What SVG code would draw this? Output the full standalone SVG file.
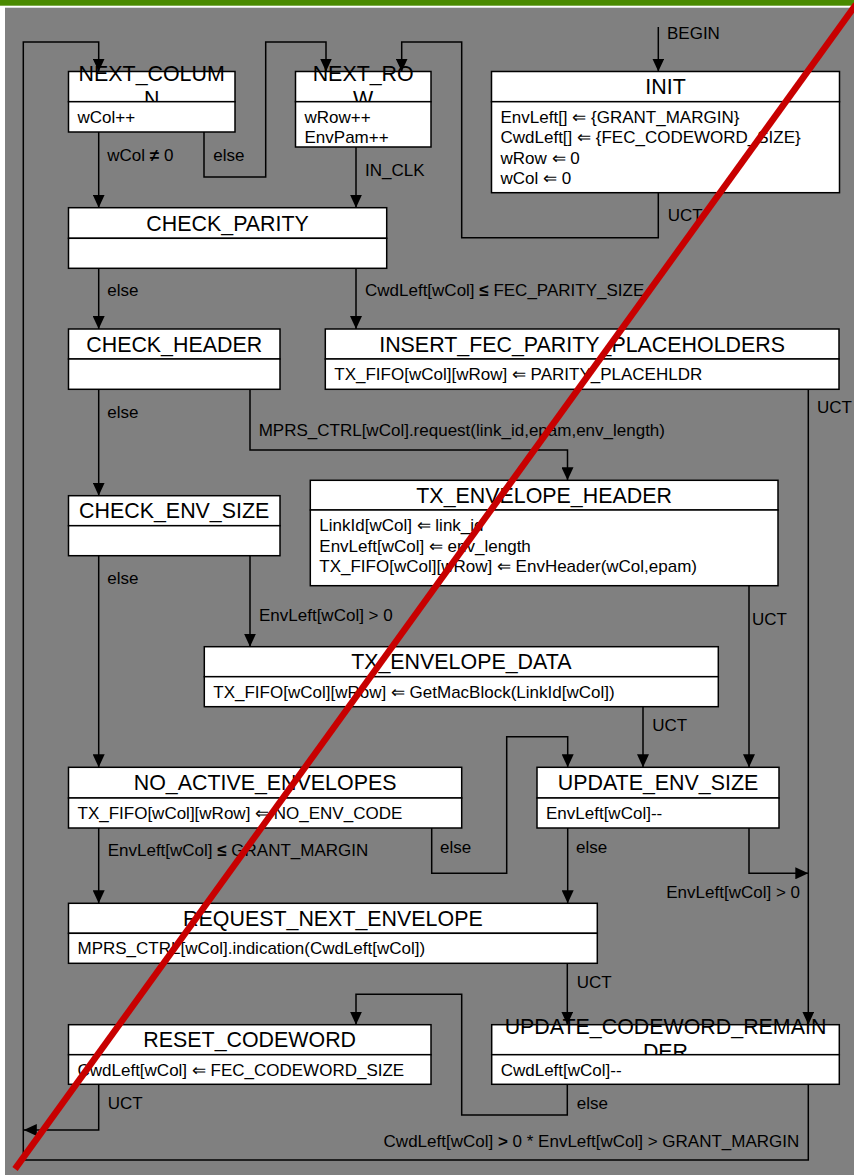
<svg xmlns="http://www.w3.org/2000/svg" width="854" height="1175" viewBox="0 0 854 1175">
<style>
.hd{fill:#fff;stroke:#000;stroke-width:1.5}
.bd{fill:#fff;stroke:#000;stroke-width:1.5}
.t{font-family:"Liberation Sans",Arial,sans-serif;font-size:21.4px;fill:#000;text-anchor:middle}
.b{font-family:"Liberation Sans",Arial,sans-serif;font-size:17px;fill:#000}
.l{font-family:"Liberation Sans",Arial,sans-serif;font-size:17px;fill:#000}
.r{text-anchor:end}
.c{fill:none;stroke:#000;stroke-width:1.5}
.bo{font-weight:bold}
</style>
<defs>
<marker id="ah" markerUnits="userSpaceOnUse" markerWidth="14" markerHeight="12" refX="13" refY="6" orient="auto">
<path d="M0,0 L13,6 L0,12 Z" fill="#000"/>
</marker>
<clipPath id="cpTop"><rect x="0" y="50" width="854" height="51.7"/></clipPath>
<clipPath id="cpBot"><rect x="0" y="1000" width="854" height="54.7"/></clipPath>
</defs>
<rect x="0" y="0" width="854" height="1175" fill="#fff"/>
<rect x="0" y="0" width="854" height="5.7" fill="#4a8a00"/>
<rect x="5" y="7.7" width="849" height="1167.3" fill="#808080"/>

<g id="NEXT_COLUMN">
<rect class="hd" x="68.5" y="71.5" width="166.5" height="30.2"/>
<g clip-path="url(#cpTop)">
<text class="t" x="151.7" y="81.2">NEXT_COLUM</text>
<text class="t" x="151.7" y="106.2">N</text>
</g>
<rect class="bd" x="68.5" y="101.7" width="166.5" height="30.3"/>
<text class="b" x="77.5" y="122.7">wCol++</text>
</g>

<g id="NEXT_ROW">
<rect class="hd" x="295.5" y="71.5" width="135.5" height="30.2"/>
<g clip-path="url(#cpTop)">
<text class="t" x="363.2" y="81.2">NEXT_RO</text>
<text class="t" x="363.2" y="106.2">W</text>
</g>
<rect class="bd" x="295.5" y="101.7" width="135.5" height="45.3"/>
<text class="b" x="304.5" y="122.7">wRow++</text>
<text class="b" x="304.5" y="143.2">EnvPam++</text>
</g>

<g id="INIT">
<rect class="hd" x="491.5" y="71.5" width="348" height="30.2"/>
<text class="t" x="665.5" y="94">INIT</text>
<rect class="bd" x="491.5" y="101.7" width="348" height="91"/>
<text class="b" x="500.5" y="122.7">EnvLeft[] ⇐ {GRANT_MARGIN}</text>
<text class="b" x="500.5" y="143.2">CwdLeft[] ⇐ {FEC_CODEWORD_SIZE}</text>
<text class="b" x="500.5" y="163.7">wRow ⇐ 0</text>
<text class="b" x="500.5" y="184.2">wCol ⇐ 0</text>
</g>

<g id="CHECK_PARITY">
<rect class="hd" x="68.5" y="207.7" width="318.2" height="30.6"/>
<text class="t" x="227.6" y="230.5">CHECK_PARITY</text>
<rect class="bd" x="68.5" y="238.3" width="318.2" height="30"/>
</g>

<g id="CHECK_HEADER">
<rect class="hd" x="68.5" y="329" width="211.5" height="30"/>
<text class="t" x="174.2" y="351.5">CHECK_HEADER</text>
<rect class="bd" x="68.5" y="359" width="211.5" height="30.3"/>
</g>

<g id="INSERT_FEC_PARITY_PLACEHOLDERS">
<rect class="hd" x="325.3" y="329" width="513.7" height="30"/>
<text class="t" x="582.1" y="351.5">INSERT_FEC_PARITY_PLACEHOLDERS</text>
<rect class="bd" x="325.3" y="359" width="513.7" height="30.3"/>
<text class="b" x="334.3" y="380">TX_FIFO[wCol][wRow] ⇐ PARITY_PLACEHLDR</text>
</g>

<g id="TX_ENVELOPE_HEADER">
<rect class="hd" x="310.3" y="480.3" width="467.7" height="29.7"/>
<text class="t" x="544.1" y="502.7">TX_ENVELOPE_HEADER</text>
<rect class="bd" x="310.3" y="510" width="467.7" height="75.7"/>
<text class="b" x="319.3" y="531">LinkId[wCol]  ⇐ link_id</text>
<text class="b" x="319.3" y="551.5">EnvLeft[wCol] ⇐ env_length</text>
<text class="b" x="319.3" y="572">TX_FIFO[wCol][wRow] ⇐ EnvHeader(wCol,epam)</text>
</g>

<g id="CHECK_ENV_SIZE">
<rect class="hd" x="68.5" y="495.7" width="211.5" height="30"/>
<text class="t" x="174.2" y="518.2">CHECK_ENV_SIZE</text>
<rect class="bd" x="68.5" y="525.7" width="211.5" height="30"/>
</g>

<g id="TX_ENVELOPE_DATA">
<rect class="hd" x="204.3" y="646.7" width="514" height="30"/>
<text class="t" x="461.3" y="669.2">TX_ENVELOPE_DATA</text>
<rect class="bd" x="204.3" y="676.7" width="514" height="30"/>
<text class="b" x="213.3" y="697.7">TX_FIFO[wCol][wRow] ⇐ GetMacBlock(LinkId[wCol])</text>
</g>

<g id="NO_ACTIVE_ENVELOPES">
<rect class="hd" x="68.5" y="767.3" width="393.2" height="30.7"/>
<text class="t" x="265.1" y="790.2">NO_ACTIVE_ENVELOPES</text>
<rect class="bd" x="68.5" y="798" width="393.2" height="30"/>
<text class="b" x="77.5" y="819">TX_FIFO[wCol][wRow] ⇐ NO_ENV_CODE</text>
</g>

<g id="UPDATE_ENV_SIZE">
<rect class="hd" x="537" y="767.3" width="242" height="30.7"/>
<text class="t" x="658" y="790.2">UPDATE_ENV_SIZE</text>
<rect class="bd" x="537" y="798" width="242" height="30"/>
<text class="b" x="546" y="819">EnvLeft[wCol]--</text>
</g>

<g id="REQUEST_NEXT_ENVELOPE">
<rect class="hd" x="68.5" y="903.3" width="528.8" height="30"/>
<text class="t" x="332.9" y="925.8">REQUEST_NEXT_ENVELOPE</text>
<rect class="bd" x="68.5" y="933.3" width="528.8" height="30"/>
<text class="b" x="77.5" y="954.3">MPRS_CTRL[wCol].indication(CwdLeft[wCol])</text>
</g>

<g id="RESET_CODEWORD">
<rect class="hd" x="68.5" y="1024.7" width="362.5" height="30"/>
<text class="t" x="249.7" y="1047.2">RESET_CODEWORD</text>
<rect class="bd" x="68.5" y="1054.7" width="362.5" height="29.6"/>
<text class="b" x="77.5" y="1075.7">CwdLeft[wCol] ⇐ FEC_CODEWORD_SIZE</text>
</g>

<g id="UPDATE_CODEWORD_REMAINDER">
<rect class="hd" x="491.7" y="1024.7" width="347.6" height="30"/>
<g clip-path="url(#cpBot)">
<text class="t" x="665.5" y="1034.2">UPDATE_CODEWORD_REMAIN</text>
<text class="t" x="665.5" y="1059.2">DER</text>
</g>
<rect class="bd" x="491.7" y="1054.7" width="347.6" height="29.6"/>
<text class="b" x="500.7" y="1075.7">CwdLeft[wCol]--</text>
</g>

<g id="connectors">
<path class="c" marker-end="url(#ah)" d="M658.3,27 V71.5"/>
<path class="c" marker-end="url(#ah)" d="M658.3,192.7 V237.7 H461.7 V42 H401.7 V71.5"/>
<path class="c" marker-end="url(#ah)" d="M204,132 V177 H265.7 V42 H326 V71.5"/>
<path class="c" marker-end="url(#ah)" d="M98.7,132 V207.7"/>
<path class="c" marker-end="url(#ah)" d="M356,147 V207.7"/>
<path class="c" marker-end="url(#ah)" d="M98.7,268.3 V329"/>
<path class="c" marker-end="url(#ah)" d="M356,268.3 V329"/>
<path class="c" marker-end="url(#ah)" d="M98.7,389.3 V495.7"/>
<path class="c" marker-end="url(#ah)" d="M250,389.3 V450 H567.5 V480.3"/>
<path class="c" marker-end="url(#ah)" d="M808.3,389.3 V1024.7"/>
<path class="c" marker-end="url(#ah)" d="M98.7,555.7 V767.3"/>
<path class="c" marker-end="url(#ah)" d="M250,555.7 V646.7"/>
<path class="c" marker-end="url(#ah)" d="M749,585.7 V767.3"/>
<path class="c" marker-end="url(#ah)" d="M643,706.7 V767.3"/>
<path class="c" marker-end="url(#ah)" d="M98.7,828 V903.3"/>
<path class="c" marker-end="url(#ah)" d="M431.7,828 V873.3 H506.7 V736.7 H567.7 V767.3"/>
<path class="c" marker-end="url(#ah)" d="M567.7,828 V903.3"/>
<path class="c" marker-end="url(#ah)" d="M749,828 V873.3 H808.3"/>
<path class="c" marker-end="url(#ah)" d="M567.3,963.3 V1024.7"/>
<path class="c" marker-end="url(#ah)" d="M567.3,1084.3 V1115 H461.7 V994.3 H356 V1024.7"/>
<path class="c" marker-end="url(#ah)" d="M98.7,1084.3 V1130 H23.8"/>
<path class="c" marker-end="url(#ah)" d="M808.3,1084.3 V1160 H23.3 V42 H98.7 V71.5"/>

<text class="l" x="667" y="39">BEGIN</text>
<text class="l" x="107.3" y="161">wCol <tspan class="bo">≠</tspan> 0</text>
<text class="l" x="213.3" y="161">else</text>
<text class="l" x="365" y="176">IN_CLK</text>
<text class="l" x="667.7" y="221">UCT</text>
<text class="l" x="107.3" y="296">else</text>
<text class="l" x="365" y="296">CwdLeft[wCol] <tspan class="bo">≤</tspan> FEC_PARITY_SIZE</text>
<text class="l" x="107.3" y="417.5">else</text>
<text class="l" x="258.7" y="436">MPRS_CTRL[wCol].request(link_id,epam,env_length)</text>
<text class="l" x="817" y="413">UCT</text>
<text class="l" x="107.3" y="584">else</text>
<text class="l" x="259" y="621">EnvLeft[wCol] &gt; 0</text>
<text class="l" x="752" y="625">UCT</text>
<text class="l" x="652.3" y="731">UCT</text>
<text class="l" x="107.7" y="856">EnvLeft[wCol] <tspan class="bo">≤</tspan> GRANT_MARGIN</text>
<text class="l" x="440" y="853">else</text>
<text class="l" x="576" y="853">else</text>
<text class="l r" x="800" y="897.5">EnvLeft[wCol] &gt; 0</text>
<text class="l" x="576.7" y="987.5">UCT</text>
<text class="l" x="107.7" y="1108.5">UCT</text>
<text class="l" x="576.7" y="1109">else</text>
<text class="l r" x="799.3" y="1146.5">CwdLeft[wCol] <tspan class="bo">&gt;</tspan> 0 * EnvLeft[wCol] &gt; GRANT_MARGIN</text>
</g>

<line x1="856" y1="4.5" x2="15" y2="1169" stroke="#c80000" stroke-width="6.5"/>
</svg>
